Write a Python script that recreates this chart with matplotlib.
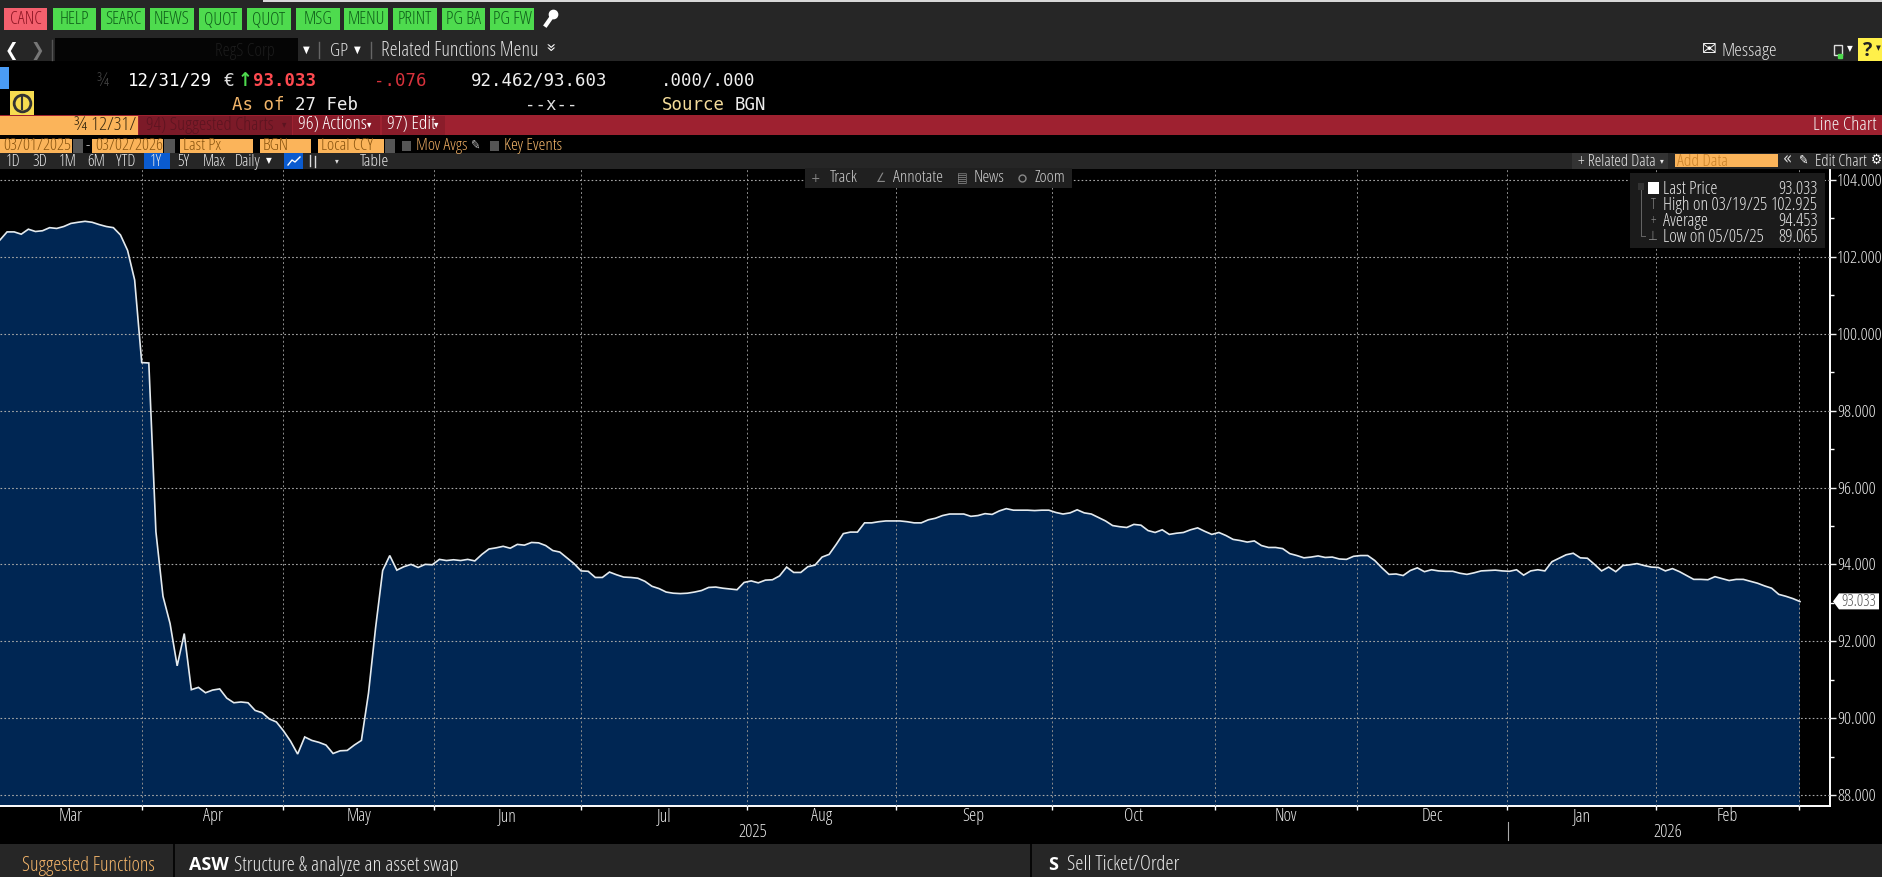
import numpy as np
import matplotlib
matplotlib.use('Agg')
import matplotlib.pyplot as plt
from matplotlib.patches import Rectangle, Polygon
from matplotlib.ticker import FixedLocator, NullFormatter

W, H = 1882, 877

# last price per trading day, 03/01/2025 - 03/02/2026
prices_mar_may = [102.44, 102.65, 102.65, 102.59, 102.72, 102.66, 102.68, 102.76, 102.74, 102.79,
                  102.87, 102.90, 102.925, 102.90, 102.84, 102.79, 102.76, 102.57, 102.17, 101.40,
                  99.25, 99.24, 94.85, 93.17, 92.46, 91.36, 92.20, 90.74, 90.80, 90.66,
                  90.73, 90.76, 90.52, 90.40, 90.42, 90.40, 90.20, 90.14, 89.98, 89.90,
                  89.67, 89.40, 89.065, 89.51, 89.42, 89.37, 89.30, 89.08, 89.15, 89.16,
                  89.30, 89.42, 90.65, 92.35, 93.84, 94.23, 93.85, 93.94, 94.00, 93.92,
                  94.00, 93.99, 94.13, 94.10]
prices_jun_sep = [94.12, 94.10, 94.13, 94.09, 94.26, 94.40, 94.43, 94.47, 94.42, 94.52,
                  94.50, 94.57, 94.56, 94.49, 94.36, 94.32, 94.17, 94.02, 93.83, 93.82,
                  93.66, 93.66, 93.80, 93.73, 93.67, 93.66, 93.64, 93.56, 93.43, 93.37,
                  93.28, 93.25, 93.24, 93.25, 93.28, 93.32, 93.40, 93.41, 93.38, 93.36,
                  93.34, 93.53, 93.57, 93.52, 93.59, 93.60, 93.70, 93.93, 93.79, 93.79,
                  93.94, 93.98, 94.19, 94.26, 94.52, 94.80, 94.84, 94.84, 95.08, 95.08,
                  95.11, 95.13, 95.13, 95.13, 95.11, 95.08, 95.08, 95.16, 95.20, 95.27,
                  95.31, 95.31, 95.31, 95.25, 95.27, 95.32, 95.30, 95.39, 95.45, 95.41,
                  95.41, 95.41, 95.40, 95.41, 95.41, 95.35, 95.31, 95.34, 95.42, 95.34,
                  95.31, 95.22, 95.13, 95.01, 94.98, 94.96, 95.04, 95.02, 94.88, 94.83,
                  94.90, 94.78, 94.81, 94.83, 94.90, 94.95]
prices_oct_feb = [94.86, 94.78, 94.83, 94.75, 94.65, 94.62, 94.58, 94.61, 94.49, 94.44,
                  94.44, 94.41, 94.28, 94.23, 94.17, 94.19, 94.22, 94.18, 94.19, 94.14,
                  94.13, 94.21, 94.23, 94.23, 94.10, 93.91, 93.74, 93.75, 93.71, 93.84,
                  93.91, 93.81, 93.86, 93.83, 93.82, 93.82, 93.77, 93.74, 93.78, 93.83,
                  93.84, 93.85, 93.83, 93.82, 93.86, 93.72, 93.83, 93.86, 93.83, 94.07,
                  94.16, 94.25, 94.29, 94.17, 94.16, 94.00, 93.83, 93.93, 93.81, 93.97,
                  93.99, 94.02, 93.97, 93.93, 93.92, 93.83, 93.89, 93.81, 93.71, 93.61,
                  93.61, 93.60, 93.68, 93.63, 93.58, 93.61, 93.61, 93.56, 93.51, 93.44,
                  93.38, 93.22, 93.17, 93.11, 93.033]
prices = prices_mar_may + prices_jun_sep + prices_oct_feb

# month boundaries on the trading day axis
month_starts = [20.0, 40.0, 61.2, 82.0, 105.4, 126.4, 148.4, 171.5, 191.5, 212.7, 233.7, 253.9]
month_names = ['Mar', 'Apr', 'May', 'Jun', 'Jul', 'Aug', 'Sep', 'Oct', 'Nov', 'Dec', 'Jan', 'Feb']
y_major = [88, 90, 92, 94, 96, 98, 100, 102, 104]
y_minor = [89, 91, 93, 95, 97, 99, 101, 103]
last_price = 93.033

legend_names = ['Last Price', 'High on 03/19/25', 'Average', 'Low on 05/05/25']
legend_vals = ['93.033', '102.925', '94.453', '89.065']

buttons = ['CANC', 'HELP', 'SEARC', 'NEWS', 'QUOT', 'QUOT', 'MSG', 'MENU', 'PRINT', 'PG BA', 'PG FW']
periods = ['1D', '3D', '1M', '6M', 'YTD', '1Y', '5Y', 'Max']

NARROW = ['Open Sans', 'DejaVu Sans']
MONO = ['DejaVu Sans Mono', 'DejaVu Sans']
SYM = ['DejaVu Sans']
ORANGE = '#fbb45a'
BAR = '#262626'
plt.rcParams['font.family'] = NARROW
plt.rcParams['font.stretch'] = 'condensed'

fig = plt.figure(figsize=(W / 100, H / 100), dpi=100, facecolor='black')

# chart axes, px box: x 0-1830, y 169-806
ax = fig.add_axes([0, 1 - 806 / H, 1830 / W, (806 - 169) / H], facecolor='black')
x = np.arange(len(prices))
px_per_day = 1800 / (len(prices) - 1)
ax.set_xlim(0, 1830 / px_per_day)
ax.set_ylim(88 - 11 / 38.44, 104 + 11 / 38.44)
ax.fill_between(x, prices, 80, color='#002653', lw=0, zorder=1)
ax.plot(x, prices, color='#e4eaee', lw=1.2, zorder=3, solid_joinstyle='miter')
ax.xaxis.set_major_locator(FixedLocator(month_starts))
ax.xaxis.set_major_formatter(NullFormatter())
ax.yaxis.tick_right()
ax.yaxis.set_major_locator(FixedLocator(y_major))
ax.yaxis.set_minor_locator(FixedLocator(y_minor))
ax.set_yticklabels(['%.3f' % v for v in y_major])
ax.grid(True, axis='y', color='#a8a8a8', ls=(0, (1.5, 2)), lw=0.8, zorder=2)
ax.grid(True, axis='x', color='#8c8c8c', ls=(0, (2, 2.5)), lw=0.7, zorder=2)
ax.set_axisbelow(False)
ax.tick_params(axis='y', which='major', colors='#eeeeee', length=4, width=1, labelsize=12.5, pad=1)
ax.tick_params(axis='y', which='minor', colors='white', length=3, width=1)
ax.tick_params(axis='x', colors='white', length=3, width=1)
for name in ['top', 'left']:
    ax.spines[name].set_visible(False)
for name in ['bottom', 'right']:
    ax.spines[name].set_color('white')
    ax.spines[name].set_linewidth(1.4)

# month and year labels
edges = [0.0] + month_starts
for i, name in enumerate(month_names):
    ax.annotate(name, xy=((edges[i] + edges[i + 1]) / 2, 0), xycoords=('data', 'axes fraction'),
                xytext=(0, -10), textcoords='offset pixels', color='#e6e6e6', fontsize=13, ha='center', va='center')
ax.annotate('2025', xy=(106.2, 0), xycoords=('data', 'axes fraction'), xytext=(0, -26),
            textcoords='offset pixels', color='#e6e6e6', fontsize=13, ha='center', va='center')
ax.annotate('2026', xy=(235.4, 0), xycoords=('data', 'axes fraction'), xytext=(0, -26),
            textcoords='offset pixels', color='#e6e6e6', fontsize=13, ha='center', va='center')

# terminal chrome drawn in pixel coordinates on top
ui = fig.add_axes([0, 0, 1, 1], facecolor='none')
ui.set_xlim(0, W)
ui.set_ylim(H, 0)
ui.axis('off')


def box(x0, y0, x1, y1, color, **kw):
    ui.add_patch(Rectangle((x0, y0), x1 - x0, y1 - y0, facecolor=color, edgecolor='none', **kw))


def txt(x0, y0, s, color='#e8e8e8', size=13, ha='left', family=NARROW, **kw):
    # Open Sans sits a little high with va center
    dy = 1.5 if family is NARROW else 0.5
    ui.text(x0, y0 + dy, s, color=color, fontsize=size, ha=ha, va='center', family=family, **kw)


# top toolbar
box(0, 0, W, 61, BAR)
box(263, 0, W, 2, '#d8d8d8')
btn_x = [(4, 47), (53, 96), (101, 145), (150, 194), (199, 242), (247, 291),
         (296, 340), (344, 388), (393, 437), (442, 485), (490, 534)]
for i, (label, (x0, x1)) in enumerate(zip(buttons, btn_x)):
    box(x0, 8, x1, 30, '#f4606e' if i == 0 else '#4edb4e')
    txt((x0 + x1) / 2, 18, label, '#8c1422' if i == 0 else '#0f5f1a', 13, ha='center')
ui.plot([546, 553], [25, 15], color='white', lw=3)
ui.plot([553], [14], 'o', color='white', ms=6)

# second row
txt(12, 50, '❮', 'white', 13, ha='center', family=SYM)
txt(37, 50, '❯', '#777777', 13, ha='center', family=SYM)
ui.plot([52, 52], [40, 60], color='#555555', lw=1)
box(55, 38, 298, 61, '#050505')
txt(215, 50, 'RegS Corp', '#1c1c1c', 13)
txt(306, 49, '▼', 'white', 7, ha='center', family=SYM)
ui.plot([319, 319], [42, 58], color='#666666', lw=1)
txt(330, 49, 'GP', '#e0e0e0', 14)
txt(357, 49, '▼', 'white', 7, ha='center', family=SYM)
ui.plot([371, 371], [42, 58], color='#666666', lw=1)
txt(381, 49, 'Related Functions Menu', '#e0e0e0', 14.5)
txt(548, 47, '»', 'white', 12, ha='center', family=SYM, rotation=-90)
txt(1709, 49, '✉', 'white', 14, ha='center', family=SYM)
txt(1722, 49, 'Message', '#e0e0e0', 14)
ui.add_patch(Rectangle((1834, 45), 8, 10, facecolor='none', edgecolor='#dddddd', lw=1))
ui.plot([1840], [56], 's', color='#4edb4e', ms=2.5)
txt(1850, 48, '▼', 'white', 6, ha='center', family=SYM)
box(1858, 38, W, 61, '#fff04a')
txt(1868, 49, '?', '#222222', 14, ha='center', weight='bold')
txt(1878, 48, '▼', '#222222', 5, ha='center', family=SYM)

# quote header
box(0, 67, 9, 89, '#4a9cf5')
txt(103, 79, '¾', '#444444', 13, ha='center')
txt(128, 80, '12/31/29', 'white', 12.5, family=MONO)
txt(224, 80, '€', '#e0e0e0', 13, family=MONO)
txt(245, 80, '↑', '#4edb4e', 14, ha='center', family=SYM, weight='bold')
txt(253, 80, '93.033', '#ff4a50', 12.5, family=MONO, weight='bold')
txt(374, 80, '-.076', '#d8323c', 12.5, family=MONO)
txt(471, 80, '92.462/93.603', '#f0f0f0', 12.5, family=MONO)
txt(661, 80, '.000/.000', '#f0f0f0', 12.5, family=MONO)
box(10, 91, 34, 115, '#f6dc50')
ui.plot([22], [103], 'o', mfc='none', mec='#333333', mew=2, ms=12)
ui.plot([22, 22], [97, 109], color='#333333', lw=1.5)
txt(232, 104, 'As of', '#f2b56a', 12.5, family=MONO)
txt(295, 104, '27 Feb', '#ededed', 12.5, family=MONO)
txt(525, 104, '--x--', '#e0e0e0', 12.5, family=MONO)
txt(662, 104, 'Source', '#f4dc9a', 12.5, family=MONO)
txt(735, 104, 'BGN', '#ededed', 12.5, family=MONO)

# red title bar
box(0, 115, W, 135, '#9e2130')
box(0, 116, 138, 135, ORANGE)
txt(136, 123, '¾ 12/31/', '#3a2a10', 14, ha='right')
box(139, 116, 292, 135, '#7c1a28')
txt(146, 123, '94) Suggested Charts', '#5c1420', 13.5)
txt(284, 124, '▾', '#5c1420', 7, ha='center', family=SYM)
box(293, 116, 380, 135, '#8a1c2a')
txt(298, 123, '96) Actions', 'white', 14)
txt(369, 124, '▾', 'white', 7, ha='center', family=SYM)
box(382, 116, 445, 135, '#8a1c2a')
txt(387, 123, '97) Edit', 'white', 14)
txt(436, 124, '▾', 'white', 7, ha='center', family=SYM)
txt(1877, 123, 'Line Chart', '#f2f2f2', 14, ha='right')

# date and source fields
fields = [(0, 72, '03/01/2025'), (92, 163, '03/02/2026'), (180, 253, 'Last Px'),
          (260, 311, 'BGN'), (318, 384, 'Local CCY')]
for x0, x1, label in fields:
    box(x0, 139, x1, 153, ORANGE)
    txt(x0 + 3, 145, label, '#8a5510', 12.5)
for x0, x1 in [(73, 83), (164, 175), (385, 395)]:
    box(x0, 139, x1, 153, '#555555')
txt(88, 145, '-', '#e0e0e0', 12, ha='center')
box(402, 141, 411, 151, '#555555')
txt(416, 145, 'Mov Avgs', '#e8a860', 12.5)
txt(476, 145, '✎', '#bbbbbb', 9, ha='center', family=SYM)
box(490, 141, 499, 151, '#555555')
txt(504, 145, 'Key Events', '#f0b46a', 12.5)

# period row
box(0, 153, W, 169, BAR)
box(144, 153, 170, 169, '#0a5bd0')
box(284, 153, 303, 169, '#0a5bd0')
for cx, label in zip([13, 40, 68, 96, 126, 156, 183, 214], periods):
    txt(cx, 160, label, '#e6e6e6', 12, ha='center')
txt(248, 160, 'Daily', '#e6e6e6', 12, ha='center')
txt(269, 160, '▼', 'white', 6, ha='center', family=SYM)
ui.plot([288, 292, 295, 300], [165, 160, 162, 157], color='white', lw=1)
ui.plot([310, 310], [155, 166], color='#dddddd', lw=1)
ui.plot([315, 315], [156, 167], color='#dddddd', lw=1)
txt(337, 160, '▾', '#dddddd', 6, ha='center', family=SYM)
txt(374, 160, 'Table', '#e6e6e6', 12.5, ha='center')
box(1572, 153, 1668, 169, '#333333')
txt(1578, 160, '+ Related Data', '#e6e6e6', 12)
txt(1662, 160, '▾', '#e6e6e6', 6, ha='center', family=SYM)
box(1675, 154, 1778, 167, ORANGE)
txt(1677, 160, 'Add Data', '#c9822a', 12.5)
txt(1787, 159, '«', '#dddddd', 12, ha='center', family=SYM)
txt(1804, 160, '✎', 'white', 9, ha='center', family=SYM)
txt(1815, 160, 'Edit Chart', '#e6e6e6', 12)
txt(1876, 159, '⚙', 'white', 10, ha='center', family=SYM)

# hover toolbar
box(805, 168, 1072, 188, '#202020')
for cx, label in zip([830, 893, 974, 1035], ['Track', 'Annotate', 'News', 'Zoom']):
    txt(cx, 177, label, '#c8c8c8', 12.5)
for cx, g in zip([816, 880, 962], ['+', '∠', '▤']):
    txt(cx, 178, g, '#888888', 9, ha='center', family=SYM)
ui.plot([1022], [178], 'o', mfc='none', mec='#888888', ms=5)

# legend box
box(1630, 173, 1825, 248, '#1b1b1b')
box(1648, 182, 1659, 194, 'white')
box(1638, 183, 1644, 190, '#333333')
ui.plot([1641, 1641, 1645], [190, 236, 236], color='#666666', lw=0.7)
for i, (name, val) in enumerate(zip(legend_names, legend_vals)):
    ly = 188 + i * 15.7
    txt(1663, ly, name, '#e6e6e6', 13)
    txt(1818, ly, val, '#e6e6e6', 13, ha='right')
txt(1653, 204, 'T', '#888888', 10, ha='center')
txt(1653, 220, '+', '#888888', 10, ha='center')
txt(1653, 236, '⊥', '#888888', 9, ha='center', family=SYM)

# last price tag on the value axis
tag_y = 804 - (last_price - 87.71) * 38.44 + 2
ui.add_patch(Polygon([(1833, tag_y), (1839, tag_y - 8), (1879, tag_y - 8), (1879, tag_y + 8), (1839, tag_y + 8)],
                     facecolor='white', edgecolor='none'))
txt(1859, tag_y - 1, '%.3f' % last_price, '#555555', 11.5, ha='center')

# year separator
ui.plot([1508, 1508], [822, 840], color='#aaaaaa', lw=0.8)

# bottom bar
box(0, 844, W, H, BAR)
ui.plot([174, 174], [844, H], color='#000000', lw=1.2)
ui.plot([1031, 1031], [844, H], color='#000000', lw=1.2)
txt(22, 864, 'Suggested Functions', '#f2b46a', 14.6)
txt(189, 864, 'ASW', 'white', 13, weight='bold', stretch='normal')
txt(234, 864, 'Structure & analyze an asset swap', '#e6e6e6', 15)
txt(1048, 864, 'S', 'white', 13, weight='bold', stretch='normal')
txt(1067, 864, 'Sell Ticket/Order', '#e6e6e6', 15)

fig.savefig('out.png', dpi=100, facecolor='black')
